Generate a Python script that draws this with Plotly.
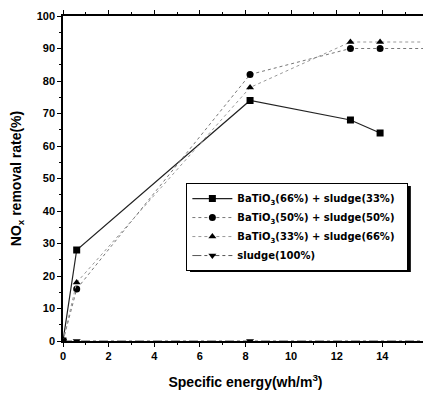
import plotly.graph_objects as go

energy_a = [0, 0.6, 8.2, 12.6, 13.9]
rate_a = [0, 28, 74, 68, 64]
energy_b = [0, 0.6, 8.2, 12.6, 13.9, 16]
rate_b = [0, 16, 82, 90, 90, 90]
energy_c = [0, 0.6, 8.2, 12.6, 13.9, 16]
rate_c = [0, 18, 78, 92, 92, 92]
energy_d = [0, 0.6, 8.2, 16]
rate_d = [0, 0, 0, 0]

pad = "\u00a0" * 2
names = ["BaTiO<sub>3</sub>(66%) + sludge(33%)" + pad,
         "BaTiO<sub>3</sub>(50%) + sludge(50%)" + pad,
         "BaTiO<sub>3</sub>(33%) + sludge(66%)" + pad,
         "sludge(100%)"]

fig = go.Figure()
fig.add_trace(go.Scatter(x=energy_a, y=rate_a, name=names[0], mode="lines+markers",
                         line=dict(color="#222", width=1.2),
                         marker=dict(symbol="square", size=7, color="black")))
fig.add_trace(go.Scatter(x=energy_b, y=rate_b, name=names[1], mode="lines+markers",
                         line=dict(color="#777", width=1, dash="dot"),
                         marker=dict(symbol="circle", size=7, color="black")))
fig.add_trace(go.Scatter(x=energy_c, y=rate_c, name=names[2], mode="lines+markers",
                         line=dict(color="#999", width=1, dash="dot"),
                         marker=dict(symbol="triangle-up", size=7, color="black")))
fig.add_trace(go.Scatter(x=energy_d, y=rate_d, name=names[3], mode="lines+markers",
                         line=dict(color="#555", width=1, dash="dashdot"),
                         marker=dict(symbol="triangle-down", size=7, color="black")))

axis_common = dict(showline=True, linecolor="black", linewidth=1.5, mirror="ticks",
                   ticks="outside", ticklen=4, tickwidth=1.2, tickcolor="black",
                   showgrid=False, zeroline=False, automargin=False,
                   tickfont=dict(family="Liberation Sans", size=11, color="black", weight="bold"))

fig.add_shape(type="rect", xref="paper", yref="paper",
              x0=0.348, x1=0.953, y0=0.212, y1=0.477,
              fillcolor="black", line=dict(width=0), layer="above")

fig.update_layout(
    width=423, height=385,
    margin=dict(l=55, r=3, t=8, b=52),
    paper_bgcolor="white", plot_bgcolor="white",
    font=dict(family="Liberation Sans", color="black"),
    xaxis=dict(range=[0, 16], dtick=2,
               minor=dict(dtick=1, ticks="outside", ticklen=2, tickcolor="black"),
               title=dict(text="Specific energy(wh/m<sup>3</sup>)",
                          font=dict(size=14, weight="bold"), standoff=16),
               **axis_common),
    yaxis=dict(range=[0, 100], dtick=10,
               minor=dict(dtick=5, ticks="outside", ticklen=2, tickcolor="black"),
               title=dict(text="NO<sub>x</sub> removal rate(%)",
                          font=dict(size=14, weight="bold"), standoff=14),
               **axis_common),
    legend=dict(x=0.338, y=0.486, xanchor="left", yanchor="top",
                bgcolor="white", bordercolor="black", borderwidth=1,
                font=dict(family="DejaVu Sans", size=10, weight="bold"),
                tracegroupgap=0, itemwidth=40),
    showlegend=True,
)

fig.write_html("out.html")
